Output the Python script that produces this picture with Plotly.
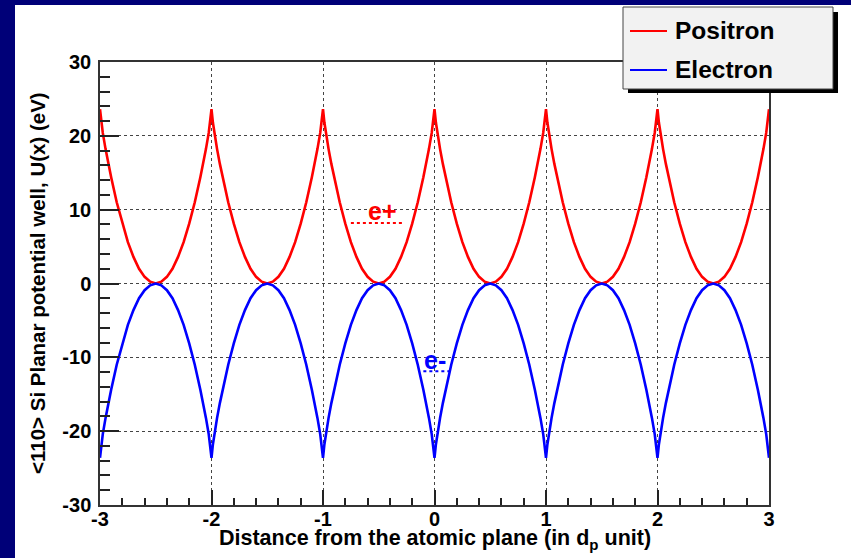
import plotly.graph_objects as go

# ---- data -------------------------------------------------------------
# Planar potential of Si <110> as a function of the distance from the
# nearest atomic plane (d in units of the plane spacing d_p, 0 .. 0.5).
profile_d = [0.0, 0.0125, 0.025, 0.05, 0.075, 0.1, 0.15, 0.2, 0.25, 0.3, 0.35, 0.4, 0.45, 0.5]
positron_U = [23.6, 21.8, 20.4, 18.2, 16.2, 14.4, 11.0, 8.1, 5.6, 3.6, 2.0, 0.9, 0.25, 0.0]
electron_U = [-23.6, -21.8, -20.4, -18.2, -16.2, -14.4, -11.0, -8.1, -5.6, -3.6, -2.0, -0.9, -0.25, 0.0]

# atomic plane positions (in d_p)
planes = [-3, -2, -1, 0, 1, 2, 3]

x_ticks = [-3, -2, -1, 0, 1, 2, 3]
x_ticktext = ["-3", "-2", "-1", "0", "1", "2", "3"]
y_ticks = [-30, -20, -10, 0, 10, 20, 30]
y_ticktext = ["-30", "-20", "-10", "0", "10", "20", "30"]

# well-depth markers
ep_label_x, ep_label_y = -0.47, 9.8
ep_line_x = [-0.75, -0.27]
ep_line_y = [8.2, 8.2]
em_label_x, em_label_y = 0.0, -10.4
em_line_x = [-0.1, 0.14]
em_line_y = [-11.9, -11.9]


def periodic_curve(values):
    """Lay the half-period profile out around every plane."""
    xs, ys = [], []
    for k in planes[:-1]:
        for d, u in zip(profile_d, values):
            xs.append(k + d)
            ys.append(u)
        for d, u in zip(reversed(profile_d[:-1]), reversed(values[:-1])):
            xs.append(k + 1 - d)
            ys.append(u)
    return xs, ys


xp, yp = periodic_curve(positron_U)
xe, ye = periodic_curve(electron_U)

# ---- geometry (pixels) -------------------------------------------------
W, H = 851, 558
L, R, T, B = 100, 769, 62, 505


def px(x):
    return (x - L) / (R - L)


def py(y):
    return (B - y) / (B - T)


FONT = "Liberation Sans"
NAVY = "#000078"

fig = go.Figure()
fig.add_trace(go.Scatter(x=xp, y=yp, mode="lines", name="Positron",
                         line=dict(color="#ff0000", width=2.6)))
fig.add_trace(go.Scatter(x=xe, y=ye, mode="lines", name="Electron",
                         line=dict(color="#0000ff", width=2.6)))
fig.add_trace(go.Scatter(x=ep_line_x, y=ep_line_y, mode="lines", showlegend=False,
                         line=dict(color="#ff0000", width=2, dash="dot")))
fig.add_trace(go.Scatter(x=em_line_x, y=em_line_y, mode="lines", showlegend=False,
                         line=dict(color="#0000ff", width=2, dash="dot")))

axis_common = dict(
    showline=True, linecolor="#333333", linewidth=1.5, mirror=True,
    showgrid=True, gridcolor="#444444", griddash="dot", gridwidth=1,
    zeroline=False, ticks="inside", tickcolor="#222222", tickwidth=1.5,
    tickfont=dict(family=FONT, size=20, color="black", weight="bold"),
)

fig.update_xaxes(range=[-3, 3], tickvals=x_ticks, ticktext=x_ticktext, ticklen=15,
                 minor=dict(dtick=0.2, ticklen=7, ticks="inside", tickcolor="#222222",
                            showgrid=False),
                 ticklabelstandoff=-5, **axis_common)
fig.update_yaxes(range=[-30, 30], tickvals=y_ticks, ticktext=y_ticktext, ticklen=19,
                 minor=dict(dtick=2, ticklen=10, ticks="inside", tickcolor="#222222",
                            showgrid=False),
                 ticklabelstandoff=3, **axis_common)

shapes = [
    # white panel over the slide background
    dict(type="rect", xref="paper", yref="paper", layer="below",
         x0=px(15), x1=px(W + 5), y0=py(H + 5), y1=py(5),
         fillcolor="white", line=dict(width=0)),
    # legend shadow and box
    dict(type="rect", xref="paper", yref="paper", layer="above",
         x0=px(628), x1=px(838), y0=py(93), y1=py(12),
         fillcolor="black", line=dict(width=0)),
    dict(type="rect", xref="paper", yref="paper", layer="above",
         x0=px(623), x1=px(833), y0=py(89), y1=py(7),
         fillcolor="#f2f2f2", line=dict(color="#444444", width=1)),
    # legend line samples
    dict(type="line", xref="paper", yref="paper", layer="above",
         x0=px(630), x1=px(667), y0=py(31), y1=py(31),
         line=dict(color="#ff0000", width=2)),
    dict(type="line", xref="paper", yref="paper", layer="above",
         x0=px(630), x1=px(667), y0=py(70), y1=py(70),
         line=dict(color="#0000ff", width=2)),
]

annotations = [
    dict(text="Positron", xref="paper", yref="paper", x=px(673), y=py(31),
         xanchor="left", yanchor="middle", showarrow=False,
         font=dict(family=FONT, size=24.5, color="black", weight="bold")),
    dict(text="Electron", xref="paper", yref="paper", x=px(673), y=py(70),
         xanchor="left", yanchor="middle", showarrow=False,
         font=dict(family=FONT, size=24.5, color="black", weight="bold")),
    dict(text="e+", x=ep_label_x, y=ep_label_y, xanchor="center", yanchor="middle",
         showarrow=False, font=dict(family=FONT, size=25, color="#ff0000", weight="bold")),
    dict(text="e-", x=em_label_x, y=em_label_y, xanchor="center", yanchor="middle",
         showarrow=False, font=dict(family=FONT, size=25, color="#0000ff", weight="bold")),
    dict(text="<110> Si Planar potential well, U(x) (eV)", xref="paper", yref="paper",
         x=px(37), y=py(283), xanchor="center", yanchor="middle", textangle=-90,
         showarrow=False, font=dict(family=FONT, size=20.5, color="black", weight="bold")),
    dict(text="Distance from the atomic plane (in d<sub>p</sub> unit)", xref="paper",
         yref="paper", x=px(435), y=py(524), xanchor="center", yanchor="top",
         showarrow=False, font=dict(family=FONT, size=21.5, color="black", weight="bold")),
]

fig.update_layout(
    width=W, height=H,
    margin=dict(l=L, r=W - R, t=T, b=H - B),
    paper_bgcolor=NAVY, plot_bgcolor="white",
    showlegend=False,
    shapes=shapes, annotations=annotations,
)

fig.write_html("out.html")
